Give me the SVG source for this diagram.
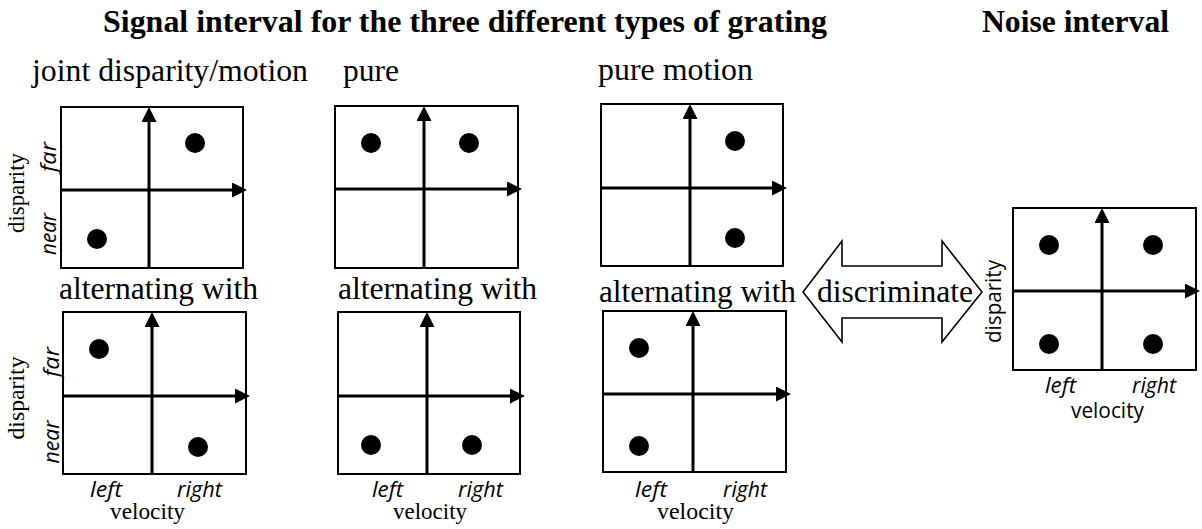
<svg xmlns="http://www.w3.org/2000/svg" width="1202" height="529" viewBox="0 0 1202 529">
<style>
.bg{fill:#fff}
.box{fill:none;stroke:#000;stroke-width:2}
.ax{stroke:#000;stroke-width:3;fill:none}
.dot{fill:#000}
.serif{font-family:"Liberation Serif","Times New Roman",serif;fill:#000}
.title{font-family:"Liberation Serif","Times New Roman",serif;font-weight:bold;font-size:31.5px;fill:#000}
.sub{font-size:31.5px}
.vel{font-size:23px}
.sans{font-family:"Open Sans","Noto Sans","Liberation Sans",sans-serif;fill:#000;font-size:21px}
.it{font-style:italic}
.blk{fill:#fff;stroke:#000;stroke-width:1.6}
</style>
<defs>
<marker id="ah" viewBox="0 0 15 15" markerWidth="15" markerHeight="15" refX="1" refY="7.5" orient="auto" markerUnits="userSpaceOnUse">
<path d="M0,0 L15,7.5 L0,15 Z" fill="#000"/>
</marker>
</defs>
<rect class="bg" x="0" y="0" width="1202" height="529"/>

<g id="titles">
<text class="title" x="103" y="32" textLength="724" lengthAdjust="spacingAndGlyphs">Signal interval for the three different types of grating</text>
<text class="title" x="982" y="32" textLength="187" lengthAdjust="spacingAndGlyphs">Noise interval</text>
<text class="serif sub" x="32" y="81" textLength="276" lengthAdjust="spacingAndGlyphs">joint disparity/motion</text>
<text class="serif sub" x="343" y="81" textLength="56" lengthAdjust="spacingAndGlyphs">pure</text>
<text class="serif sub" x="598" y="80" textLength="155" lengthAdjust="spacingAndGlyphs">pure motion</text>
</g>

<g id="panel-joint-top">
<rect class="box" x="61" y="107" width="182" height="161"/>
<line class="ax" x1="149" y1="268" x2="149" y2="121" marker-end="url(#ah)"/>
<line class="ax" x1="61" y1="190" x2="233" y2="190" marker-end="url(#ah)"/>
<circle class="dot" cx="195" cy="143" r="10"/>
<circle class="dot" cx="97" cy="239" r="10"/>
<text class="serif vel" transform="translate(24,193) rotate(-90)" text-anchor="middle" textLength="80" lengthAdjust="spacingAndGlyphs">disparity</text>
<text class="sans it" transform="translate(56,157) rotate(-90)" text-anchor="middle" textLength="30" lengthAdjust="spacingAndGlyphs">far</text>
<text class="sans it" transform="translate(56,234) rotate(-90)" text-anchor="middle" textLength="42" lengthAdjust="spacingAndGlyphs">near</text>
</g>

<g id="panel-joint-bottom">
<text class="serif sub" x="59" y="299" textLength="199" lengthAdjust="spacingAndGlyphs">alternating with</text>
<rect class="box" x="63" y="312" width="183" height="162"/>
<line class="ax" x1="152" y1="474" x2="152" y2="326" marker-end="url(#ah)"/>
<line class="ax" x1="63" y1="396" x2="236" y2="396" marker-end="url(#ah)"/>
<circle class="dot" cx="99" cy="349" r="10"/>
<circle class="dot" cx="198" cy="447" r="10"/>
<text class="serif vel" transform="translate(24,398) rotate(-90)" text-anchor="middle" textLength="83" lengthAdjust="spacingAndGlyphs">disparity</text>
<text class="sans it" transform="translate(59,362) rotate(-90)" text-anchor="middle" textLength="30" lengthAdjust="spacingAndGlyphs">far</text>
<text class="sans it" transform="translate(59,442) rotate(-90)" text-anchor="middle" textLength="43" lengthAdjust="spacingAndGlyphs">near</text>
<text class="sans it" x="90" y="497" textLength="32" lengthAdjust="spacingAndGlyphs">left</text>
<text class="sans it" x="177" y="497" textLength="45" lengthAdjust="spacingAndGlyphs">right</text>
<text class="serif vel" x="110" y="519" textLength="75" lengthAdjust="spacingAndGlyphs">velocity</text>
</g>

<g id="panel-pure-top">
<rect class="box" x="335" y="106" width="183" height="162"/>
<line class="ax" x1="424" y1="268" x2="424" y2="120" marker-end="url(#ah)"/>
<line class="ax" x1="335" y1="189" x2="508" y2="189" marker-end="url(#ah)"/>
<circle class="dot" cx="371" cy="143" r="10"/>
<circle class="dot" cx="469" cy="143" r="10"/>
</g>

<g id="panel-pure-bottom">
<text class="serif sub" x="338" y="299" textLength="199" lengthAdjust="spacingAndGlyphs">alternating with</text>
<rect class="box" x="338" y="312" width="182" height="162"/>
<line class="ax" x1="427" y1="474" x2="427" y2="326" marker-end="url(#ah)"/>
<line class="ax" x1="338" y1="396" x2="511" y2="396" marker-end="url(#ah)"/>
<circle class="dot" cx="371" cy="445" r="10"/>
<circle class="dot" cx="472" cy="445" r="10"/>
<text class="sans it" x="372" y="497" textLength="31" lengthAdjust="spacingAndGlyphs">left</text>
<text class="sans it" x="458" y="497" textLength="45" lengthAdjust="spacingAndGlyphs">right</text>
<text class="serif vel" x="393" y="519" textLength="74" lengthAdjust="spacingAndGlyphs">velocity</text>
</g>

<g id="panel-motion-top">
<rect class="box" x="601" y="104" width="182" height="162"/>
<line class="ax" x1="690" y1="266" x2="690" y2="118" marker-end="url(#ah)"/>
<line class="ax" x1="601" y1="188" x2="773" y2="188" marker-end="url(#ah)"/>
<circle class="dot" cx="735" cy="141" r="10"/>
<circle class="dot" cx="735" cy="238" r="10"/>
</g>

<g id="panel-motion-bottom">
<text class="serif sub" x="599" y="302" textLength="197" lengthAdjust="spacingAndGlyphs">alternating with</text>
<rect class="box" x="603" y="311" width="183" height="161"/>
<line class="ax" x1="693" y1="472" x2="693" y2="325" marker-end="url(#ah)"/>
<line class="ax" x1="603" y1="394" x2="777" y2="394" marker-end="url(#ah)"/>
<circle class="dot" cx="639" cy="348" r="10"/>
<circle class="dot" cx="639" cy="446" r="10"/>
<text class="sans it" x="635" y="497" textLength="32" lengthAdjust="spacingAndGlyphs">left</text>
<text class="sans it" x="723" y="497" textLength="44" lengthAdjust="spacingAndGlyphs">right</text>
<text class="serif vel" x="657" y="519" textLength="77" lengthAdjust="spacingAndGlyphs">velocity</text>
</g>

<g id="panel-noise">
<rect class="box" x="1013" y="208" width="183" height="162"/>
<line class="ax" x1="1102" y1="370" x2="1102" y2="222" marker-end="url(#ah)"/>
<line class="ax" x1="1013" y1="291" x2="1186" y2="291" marker-end="url(#ah)"/>
<circle class="dot" cx="1049" cy="245" r="10"/>
<circle class="dot" cx="1153" cy="245" r="10"/>
<circle class="dot" cx="1049" cy="344" r="10"/>
<circle class="dot" cx="1153" cy="344" r="10"/>
<text class="sans" transform="translate(1001,301.5) rotate(-90)" text-anchor="middle" textLength="83" lengthAdjust="spacingAndGlyphs">disparity</text>
<text class="sans it" x="1045" y="393" textLength="31" lengthAdjust="spacingAndGlyphs">left</text>
<text class="sans it" x="1132" y="393" textLength="44" lengthAdjust="spacingAndGlyphs">right</text>
<text class="sans" x="1071" y="418" textLength="73" lengthAdjust="spacingAndGlyphs">velocity</text>
</g>

<g id="connectors">
<g id="discriminate-arrow">
<polygon class="blk" points="803,292 842,241 842,266 942,266 942,241 982,292 942,342 942,318 842,318 842,342"/>
<text class="serif sub" x="817" y="302" textLength="156" lengthAdjust="spacingAndGlyphs">discriminate</text>
</g>
</g>
</svg>
